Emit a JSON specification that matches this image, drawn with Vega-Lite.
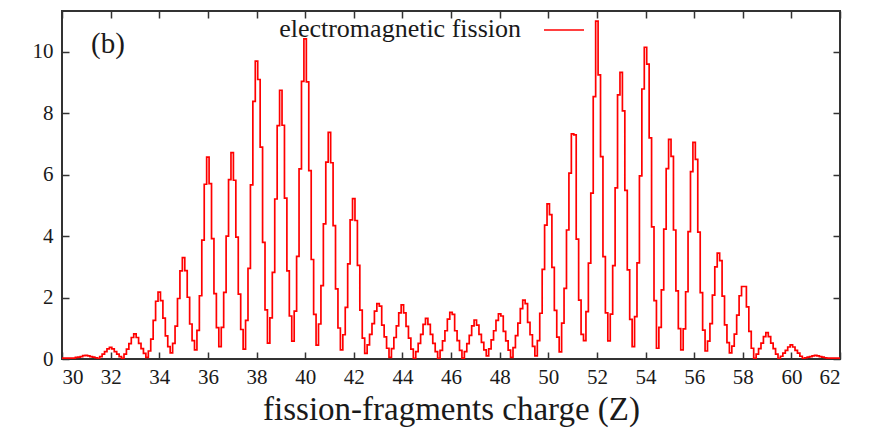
{
"$schema": "https://vega.github.io/schema/vega-lite/v6.json",
"width": 778, "height": 348,
"autosize": "none",
"padding": {"left": 62, "top": 11, "right": 31, "bottom": 85},
"background": "white",
"title": {"text": "(b)", "anchor": "start", "frame": "group", "orient": "top", "offset": 0, "baseline": "top", "dx": 29, "dy": 50, "font": "Liberation Serif", "fontSize": 29, "fontWeight": "normal", "color": "#1a1a1a"},
"config": {
  "view": {"stroke": "#333", "strokeWidth": 2},
  "axis": {"grid": false, "domain": false, "tickSize": -7, "tickWidth": 1.5, "tickColor": "#333", "labelFont": "Liberation Serif", "labelFontSize": 21, "labelColor": "#1a1a1a", "titleFont": "Liberation Serif", "titleFontWeight": "normal", "titleColor": "#1a1a1a"}
},
"data": {"values": [
{"z":30.0,"n":0.03},{"z":30.1,"n":0.03},{"z":30.2,"n":0.03},{"z":30.3,"n":0.03},{"z":30.4,"n":0.03},{"z":30.5,"n":0.03},
{"z":30.6,"n":0.05},{"z":30.7,"n":0.06},{"z":30.8,"n":0.08},{"z":30.9,"n":0.11},{"z":31.0,"n":0.12},{"z":31.1,"n":0.1},{"z":31.2,"n":0.08},{"z":31.3,"n":0.06},{"z":31.4,"n":0.04},{"z":31.5,"n":0.02},
{"z":31.6,"n":0.08},{"z":31.7,"n":0.16},{"z":31.8,"n":0.24},{"z":31.9,"n":0.33},{"z":32.0,"n":0.38},{"z":32.1,"n":0.33},{"z":32.2,"n":0.24},{"z":32.3,"n":0.16},{"z":32.4,"n":0.08},{"z":32.5,"n":0.02},
{"z":32.6,"n":0.16},{"z":32.7,"n":0.32},{"z":32.8,"n":0.5},{"z":32.9,"n":0.7},{"z":33.0,"n":0.82},{"z":33.1,"n":0.7},{"z":33.2,"n":0.51},{"z":33.3,"n":0.34},{"z":33.4,"n":0.18},{"z":33.5,"n":0.05},
{"z":33.6,"n":0.26},{"z":33.7,"n":0.65},{"z":33.8,"n":1.26},{"z":33.9,"n":1.88},{"z":34.0,"n":2.18},{"z":34.1,"n":1.9},{"z":34.2,"n":1.33},{"z":34.3,"n":0.75},{"z":34.4,"n":0.4},{"z":34.5,"n":0.2},
{"z":34.6,"n":0.51},{"z":34.7,"n":1.07},{"z":34.8,"n":1.97},{"z":34.9,"n":2.87},{"z":35.0,"n":3.3},{"z":35.1,"n":2.88},{"z":35.2,"n":2.01},{"z":35.3,"n":1.14},{"z":35.4,"n":0.6},{"z":35.5,"n":0.3},
{"z":35.6,"n":0.93},{"z":35.7,"n":2.06},{"z":35.8,"n":3.87},{"z":35.9,"n":5.69},{"z":36.0,"n":6.57},{"z":36.1,"n":5.71},{"z":36.2,"n":3.92},{"z":36.3,"n":2.13},{"z":36.4,"n":1.02},{"z":36.5,"n":0.4},
{"z":36.6,"n":1.03},{"z":36.7,"n":2.17},{"z":36.8,"n":4.0},{"z":36.9,"n":5.84},{"z":37.0,"n":6.72},{"z":37.1,"n":5.82},{"z":37.2,"n":3.97},{"z":37.3,"n":2.11},{"z":37.4,"n":0.96},{"z":37.5,"n":0.32},
{"z":37.6,"n":1.26},{"z":37.7,"n":2.95},{"z":37.8,"n":5.67},{"z":37.9,"n":8.39},{"z":38.0,"n":9.7},{"z":38.1,"n":9.1},{"z":38.2,"n":6.9},{"z":38.3,"n":3.8},{"z":38.4,"n":1.6},{"z":38.5,"n":0.52},
{"z":38.6,"n":1.34},{"z":38.7,"n":2.82},{"z":38.8,"n":5.21},{"z":38.9,"n":7.6},{"z":39.0,"n":8.75},{"z":39.1,"n":7.61},{"z":39.2,"n":5.24},{"z":39.3,"n":2.87},{"z":39.4,"n":1.4},{"z":39.5,"n":0.58},
{"z":39.6,"n":1.56},{"z":39.7,"n":3.34},{"z":39.8,"n":6.19},{"z":39.9,"n":9.04},{"z":40.0,"n":10.42},{"z":40.1,"n":9.02},{"z":40.2,"n":6.13},{"z":40.3,"n":3.24},{"z":40.4,"n":1.45},{"z":40.5,"n":0.45},
{"z":40.6,"n":1.14},{"z":40.7,"n":2.39},{"z":40.8,"n":4.4},{"z":40.9,"n":6.41},{"z":41.0,"n":7.38},{"z":41.1,"n":6.39},{"z":41.2,"n":4.34},{"z":41.3,"n":2.28},{"z":41.4,"n":1.01},{"z":41.5,"n":0.3},
{"z":41.6,"n":0.79},{"z":41.7,"n":1.68},{"z":41.8,"n":3.1},{"z":41.9,"n":4.53},{"z":42.0,"n":5.22},{"z":42.1,"n":4.51},{"z":42.2,"n":3.05},{"z":42.3,"n":1.59},{"z":42.4,"n":0.68},{"z":42.5,"n":0.18},
{"z":42.6,"n":0.46},{"z":42.7,"n":0.8},{"z":42.8,"n":1.15},{"z":42.9,"n":1.56},{"z":43.0,"n":1.8},{"z":43.1,"n":1.72},{"z":43.2,"n":1.1},{"z":43.3,"n":0.72},{"z":43.4,"n":0.35},{"z":43.5,"n":0.05},
{"z":43.6,"n":0.34},{"z":43.7,"n":0.7},{"z":43.8,"n":1.08},{"z":43.9,"n":1.5},{"z":44.0,"n":1.76},{"z":44.1,"n":1.5},{"z":44.2,"n":1.06},{"z":44.3,"n":0.68},{"z":44.4,"n":0.32},{"z":44.5,"n":0.02},
{"z":44.6,"n":0.24},{"z":44.7,"n":0.51},{"z":44.8,"n":0.8},{"z":44.9,"n":1.13},{"z":45.0,"n":1.32},{"z":45.1,"n":1.13},{"z":45.2,"n":0.8},{"z":45.3,"n":0.51},{"z":45.4,"n":0.24},{"z":45.5,"n":0.02},
{"z":45.6,"n":0.28},{"z":45.7,"n":0.59},{"z":45.8,"n":0.92},{"z":45.9,"n":1.3},{"z":46.0,"n":1.52},{"z":46.1,"n":1.45},{"z":46.2,"n":0.92},{"z":46.3,"n":0.6},{"z":46.4,"n":0.28},{"z":46.5,"n":0.03},
{"z":46.6,"n":0.24},{"z":46.7,"n":0.5},{"z":46.8,"n":0.77},{"z":46.9,"n":1.08},{"z":47.0,"n":1.27},{"z":47.1,"n":1.1},{"z":47.2,"n":0.8},{"z":47.3,"n":0.54},{"z":47.4,"n":0.3},{"z":47.5,"n":0.1},
{"z":47.6,"n":0.33},{"z":47.7,"n":0.62},{"z":47.8,"n":0.92},{"z":47.9,"n":1.26},{"z":48.0,"n":1.47},{"z":48.1,"n":1.4},{"z":48.2,"n":0.9},{"z":48.3,"n":0.59},{"z":48.4,"n":0.29},{"z":48.5,"n":0.05},
{"z":48.6,"n":0.37},{"z":48.7,"n":0.76},{"z":48.8,"n":1.17},{"z":48.9,"n":1.64},{"z":49.0,"n":1.92},{"z":49.1,"n":1.8},{"z":49.2,"n":1.19},{"z":49.3,"n":0.79},{"z":49.4,"n":0.41},{"z":49.5,"n":0.1},
{"z":49.6,"n":0.6},{"z":49.7,"n":1.49},{"z":49.8,"n":2.92},{"z":49.9,"n":4.36},{"z":50.0,"n":5.05},{"z":50.1,"n":4.7},{"z":50.2,"n":2.98},{"z":50.3,"n":1.58},{"z":50.4,"n":0.71},{"z":50.5,"n":0.23},
{"z":50.6,"n":1.17},{"z":50.7,"n":2.3},{"z":50.8,"n":4.2},{"z":50.9,"n":6.05},{"z":51.0,"n":7.33},{"z":51.1,"n":7.3},{"z":51.2,"n":3.9},{"z":51.3,"n":1.92},{"z":51.4,"n":0.8},{"z":51.5,"n":0.6},
{"z":51.6,"n":1.54},{"z":51.7,"n":3.12},{"z":51.8,"n":5.4},{"z":51.9,"n":8.54},{"z":52.0,"n":11.0},{"z":52.1,"n":9.25},{"z":52.2,"n":6.59},{"z":52.3,"n":3.33},{"z":52.4,"n":1.5},{"z":52.5,"n":0.59},
{"z":52.6,"n":1.46},{"z":52.7,"n":3.04},{"z":52.8,"n":5.57},{"z":52.9,"n":8.6},{"z":53.0,"n":9.33},{"z":53.1,"n":8.08},{"z":53.2,"n":5.49},{"z":53.3,"n":2.9},{"z":53.4,"n":1.29},{"z":53.5,"n":0.4},
{"z":53.6,"n":1.38},{"z":53.7,"n":3.13},{"z":53.8,"n":5.96},{"z":53.9,"n":8.79},{"z":54.0,"n":10.15},{"z":54.1,"n":9.6},{"z":54.2,"n":7.2},{"z":54.3,"n":4.3},{"z":54.4,"n":1.9},{"z":54.5,"n":0.35},
{"z":54.6,"n":1.03},{"z":54.7,"n":2.25},{"z":54.8,"n":4.23},{"z":54.9,"n":6.2},{"z":55.0,"n":7.15},{"z":55.1,"n":6.6},{"z":55.2,"n":4.2},{"z":55.3,"n":2.22},{"z":55.4,"n":0.99},{"z":55.5,"n":0.3},
{"z":55.6,"n":0.98},{"z":55.7,"n":2.19},{"z":55.8,"n":4.15},{"z":55.9,"n":6.1},{"z":56.0,"n":7.05},{"z":56.1,"n":6.5},{"z":56.2,"n":4.13},{"z":56.3,"n":2.16},{"z":56.4,"n":0.94},{"z":56.5,"n":0.26},
{"z":56.6,"n":0.58},{"z":56.7,"n":1.15},{"z":56.8,"n":2.08},{"z":56.9,"n":3.0},{"z":57.0,"n":3.45},{"z":57.1,"n":3.2},{"z":57.2,"n":2.05},{"z":57.3,"n":1.11},{"z":57.4,"n":0.53},{"z":57.5,"n":0.2},
{"z":57.6,"n":0.42},{"z":57.7,"n":0.81},{"z":57.8,"n":1.43},{"z":57.9,"n":2.06},{"z":58.0,"n":2.36},{"z":58.1,"n":2.36},{"z":58.2,"n":1.7},{"z":58.3,"n":0.9},{"z":58.4,"n":0.35},{"z":58.5,"n":0.02},
{"z":58.6,"n":0.16},{"z":58.7,"n":0.34},{"z":58.8,"n":0.52},{"z":58.9,"n":0.73},{"z":59.0,"n":0.86},{"z":59.1,"n":0.73},{"z":59.2,"n":0.52},{"z":59.3,"n":0.34},{"z":59.4,"n":0.16},{"z":59.5,"n":0.02},
{"z":59.6,"n":0.09},{"z":59.7,"n":0.19},{"z":59.8,"n":0.28},{"z":59.9,"n":0.39},{"z":60.0,"n":0.46},{"z":60.1,"n":0.39},{"z":60.2,"n":0.28},{"z":60.3,"n":0.19},{"z":60.4,"n":0.09},{"z":60.5,"n":0.02},
{"z":60.6,"n":0.04},{"z":60.7,"n":0.06},{"z":60.8,"n":0.08},{"z":60.9,"n":0.1},{"z":61.0,"n":0.12},{"z":61.1,"n":0.1},{"z":61.2,"n":0.08},{"z":61.3,"n":0.06},{"z":61.4,"n":0.04},{"z":61.5,"n":0.03},
{"z":61.6,"n":0.03},{"z":61.7,"n":0.03},{"z":61.8,"n":0.03},{"z":61.9,"n":0.03},{"z":62.0,"n":0.03}
]},
"layer": [
  {
    "mark": {"type": "line", "interpolate": "step", "strokeWidth": 1.7, "clip": true},
    "encoding": {
      "x": {"field": "z", "type": "quantitative", "scale": {"domain": [30, 62], "nice": false, "zero": false},
            "axis": {"orient": "bottom", "values": [30,32,34,36,38,40,42,44,46,48,50,52,54,56,58,60,62], "labelPadding": 14, "title": "fission-fragments charge (Z)", "titleFontSize": 33, "titlePadding": 6}},
      "y": {"field": "n", "type": "quantitative", "scale": {"domain": [0, 11.33], "nice": false},
            "axis": {"orient": "left", "values": [0,2,4,6,8,10], "labelPadding": 16, "title": null}},
      "color": {"datum": "electromagnetic fission", "type": "nominal", "scale": {"range": ["#ff0000"]},
                "legend": {"orient": "none", "legendX": 217, "legendY": -2, "title": "electromagnetic fission", "titleLimit": 600, "titleOrient": "left", "titleAnchor": "middle", "titleAngle": 0, "titleBaseline": "line-top", "titleLineHeight": 16, "titleAlign": "right", "titleFont": "Liberation Serif", "titleFontSize": 26, "titleFontWeight": "normal", "titleColor": "#1a1a1a", "titlePadding": 22, "symbolType": "stroke", "symbolSize": 1600, "symbolStrokeWidth": 1.6, "symbolOffset": -242, "labelExpr": "''", "labelFontSize": 1, "padding": 0}}
    }
  },
  {
    "mark": {"type": "line", "interpolate": "step", "opacity": 0},
    "encoding": {
      "x": {"field": "z", "type": "quantitative", "axis": {"orient": "top", "values": [30,32,34,36,38,40,42,44,46,48,50,52,54,56,58,60,62], "labels": false, "title": null}},
      "y": {"field": "n", "type": "quantitative", "axis": {"orient": "right", "values": [0,2,4,6,8,10], "labels": false, "title": null}}
    }
  }
],
"resolve": {"axis": {"x": "independent", "y": "independent"}}
}
